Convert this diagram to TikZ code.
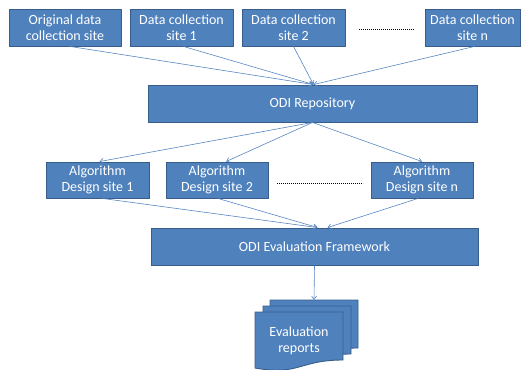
\documentclass[tikz,border=0pt]{standalone}
\usepackage{fontspec}
\setmainfont{Carlito}
\usetikzlibrary{arrows.meta,calc}
\definecolor{boxfill}{RGB}{79,129,189}
\definecolor{boxline}{RGB}{56,93,138}
\definecolor{arrowc}{RGB}{88,134,194}
\begin{document}
\begin{tikzpicture}[x=1pt,y=-1pt,
  box/.style={draw=boxline,line width=0.9pt,fill=boxfill,text=white,
    align=center,inner sep=0pt,font=\fontsize{14}{16}\selectfont},
  conn/.style={draw=arrowc,line width=0.6pt,-{Straight Barb[length=3.5pt,width=5pt]}},
  dots/.style={draw=black,line width=0.9pt,dash pattern=on 0.8pt off 1.2pt},
  docshape/.style={draw=boxline,line width=0.9pt,fill=boxfill}]
\useasboundingbox (0,0) rectangle (524,369);
% top row
\node[box,minimum width=112pt,minimum height=37pt] (b1) at (65,27.5) {Original data\\collection site};
\node[box,minimum width=103pt,minimum height=37pt] (b2) at (181.5,27.5) {Data collection\\site 1};
\node[box,minimum width=103pt,minimum height=37pt] (b3) at (293.5,27.5) {Data collection\\site 2};
\node[box,minimum width=95pt,minimum height=37pt] (b4) at (472.5,27.5) {Data collection\\site n};
\coordinate (d1a) at (359,29);
\coordinate (d1b) at (414,29);
\draw[dots] (d1a) -- (d1b);
% repository
\node[box,minimum width=329pt,minimum height=37pt] (repo) at (312.5,103.5) {ODI Repository};
% algorithm row
\node[box,minimum width=103pt,minimum height=36pt] (a1) at (97.5,180) {Algorithm\\Design site 1};
\node[box,minimum width=102pt,minimum height=36pt] (a2) at (217,180) {Algorithm\\Design site 2};
\node[box,minimum width=102pt,minimum height=36pt] (an) at (422,180) {Algorithm\\Design site n};
\coordinate (d2a) at (277,183);
\coordinate (d2b) at (363,183);
\draw[dots] (d2a) -- (d2b);
% evaluation framework
\node[box,minimum width=327pt,minimum height=37pt] (eval) at (314.5,246.5) {ODI Evaluation Framework};
% documents
\draw[docshape] (270,300) -- (358,300) -- (358,348) .. controls (314,348) and (314,364) .. (270,356) -- cycle;
\draw[docshape] (263,306) -- (351,306) -- (351,354) .. controls (307,354) and (307,370) .. (263,362) -- cycle;
\draw[docshape] (255,312) -- (343,312) -- (343,360) .. controls (299,360) and (299,376) .. (255,368) -- cycle;
\node[text=white,align=center,font=\fontsize{14}{16}\selectfont,inner sep=0pt] (rep) at (299,341) {Evaluation\\reports};
\coordinate (doctop) at (314,300);
% connectors
\draw[conn] ($(b1.south)+(5,0)$) -- ($(repo.north)+(1,0)$);
\draw[conn] ($(b2.south)+(2,0)$) -- ($(repo.north)+(1,0)$);
\draw[conn] (b3.south) -- ($(repo.north)+(1,0)$);
\draw[conn] ($(b4.south)+(2,0)$) -- ($(repo.north)+(1,0)$);
\draw[conn] (repo.south) -- ($(a1.north)+(2,0)$);
\draw[conn] (repo.south) -- ($(a2.north)+(9,0)$);
\draw[conn] (repo.south) -- (an.north);
\draw[conn] ($(a1.south)+(5,0)$) -- ($(eval.north)+(3,0)$);
\draw[conn] ($(a2.south)+(1,0)$) -- ($(eval.north)+(3,0)$);
\draw[conn] ($(an.south)+(-4,0)$) -- ($(eval.north)+(13,0)$);
\draw[conn] (eval.south) -- (doctop);
\end{tikzpicture}
\end{document}
